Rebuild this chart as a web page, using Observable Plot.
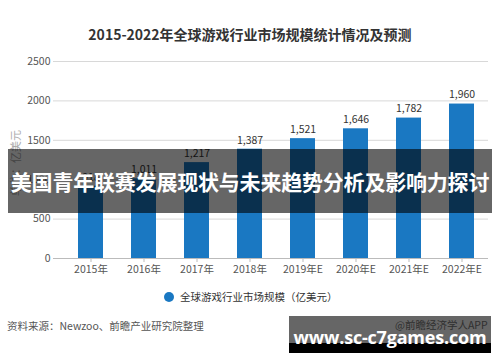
<!DOCTYPE html>
<html>
<head>
<meta charset="utf-8">
<script src="https://cdn.jsdelivr.net/npm/d3@7"></script>
<script src="https://cdn.jsdelivr.net/npm/@observablehq/plot@0.6"></script>
<style>
  body { margin: 0; background: #fff; }
  #wrap { position: relative; width: 500px; height: 362px; overflow: hidden; font-family: "Noto Sans CJK SC", "Noto Sans", sans-serif; }
  #title { position: absolute; left: 0; top: 24px; width: 500px; text-align: center; font-size: 14px; font-weight: bold; color: #333; line-height: 20px; }
  #chart { position: absolute; left: 0; top: 50px; }
  #ylab { position: absolute; left: 8px; top: 196px; transform-origin: left top; transform: rotate(-90deg); font-size: 11px; color: #aaa; white-space: nowrap; line-height: 14px; }
  #legend { position: absolute; left: 164px; top: 289px; font-size: 10.5px; color: #333; line-height: 16px; white-space: nowrap; }
  #legend span.dot { display: inline-block; width: 10px; height: 10px; border-radius: 50%; background: #1a78c2; vertical-align: -1px; margin-right: 6px; }
  #source { position: absolute; left: 7px; top: 318px; font-size: 10.5px; color: #555; line-height: 16px; white-space: nowrap; }
  #brand { position: absolute; left: 395px; top: 317px; font-size: 10.5px; color: #777; line-height: 16px; white-space: nowrap; }
  #banner { position: absolute; left: 8px; top: 149px; width: 484px; height: 64px; background: rgba(0,0,0,0.6); color: #fff; font-weight: bold; font-size: 21px; line-height: 64px; text-align: center; white-space: nowrap; letter-spacing: -0.2px; }
  #wm { position: absolute; left: 289px; top: 316px; width: 202px; height: 37px; }
  #wm .top { position: absolute; left: 0; top: 0; width: 202px; height: 27px; background: rgba(0,0,0,0.6); }
  #wm .bot { position: absolute; left: 0; top: 27px; width: 202px; height: 10px; background: #000; }
  #wm .txt { position: absolute; left: 0; top: 9px; width: 202px; text-align: center; color: #fff; font-family: "Open Sans", "DejaVu Sans", sans-serif; font-weight: bold; font-size: 18px; line-height: 24px; white-space: nowrap; letter-spacing: -0.2px; }
</style>
</head>
<body>
<div id="wrap">
  <div id="title"></div>
  <div id="chart"></div>
  <div id="ylab"></div>
  <div id="legend"></div>
  <div id="source"></div>
  <div id="brand"></div>
  <div id="banner"></div>
  <div id="wm"><div class="top"></div><div class="bot"></div><div class="txt"></div></div>
</div>
<script>
const years = ["2015年", "2016年", "2017年", "2018年", "2019年E", "2020年E", "2021年E", "2022年E"];
const values = [918, 1011, 1217, 1387, 1521, 1646, 1782, 1960];
const yTicks = [0, 500, 1000, 1500, 2000, 2500];
const titleText = "2015-2022年全球游戏行业市场规模统计情况及预测";
const seriesName = "全球游戏行业市场规模（亿美元）";
const yLabel = "单位：亿美元";
const sourceText = "资料来源：Newzoo、前瞻产业研究院整理";
const brandText = "@前瞻经济学人APP";
const bannerText = "美国青年联赛发展现状与未来趋势分析及影响力探讨";
const wmText = "www.sc-c7games.com";

const data = years.map((y, i) => ({year: y, value: values[i]}));
const fmt = d3.format(",");

document.getElementById("title").textContent = titleText;
document.getElementById("ylab").textContent = yLabel;
document.getElementById("legend").innerHTML = '<span class="dot"></span>' + seriesName;
document.getElementById("source").textContent = sourceText;
document.getElementById("brand").textContent = brandText;
document.getElementById("banner").textContent = bannerText;
document.querySelector("#wm .txt").textContent = wmText;

const chart = Plot.plot({
  width: 500,
  height: 235,
  marginLeft: 53,
  marginRight: 12,
  marginTop: 11,
  marginBottom: 27,
  style: {fontFamily: "'Noto Sans CJK SC', 'Noto Sans', sans-serif", fontSize: "10.5px", color: "#555", background: "transparent"},
  x: {domain: years, paddingInner: 0.53, paddingOuter: 0.345, align: 0.65, label: null},
  y: {domain: [0, 2500], ticks: yTicks, label: null},
  marks: [
    Plot.gridY(yTicks, {stroke: "#d8d8d8", strokeOpacity: 1}),
    Plot.axisY(yTicks, {tickSize: 0, tickPadding: 3, fill: "#555", fontSize: 10.5, tickFormat: d => String(d)}),
    Plot.barY(data, {x: "year", y: "value", fill: "#1a78c2"}),
    Plot.ruleY([0], {stroke: "#bbb"}),
    Plot.axisX({tickSize: 4, stroke: "#bbb", tickPadding: 3, fill: "#555", fontSize: 10.5}),
    Plot.text(data, {x: "year", y: "value", text: d => fmt(d.value), dy: -9, fill: "#333", fontSize: 10.5})
  ]
});
document.getElementById("chart").appendChild(chart);
</script>
</body>
</html>
